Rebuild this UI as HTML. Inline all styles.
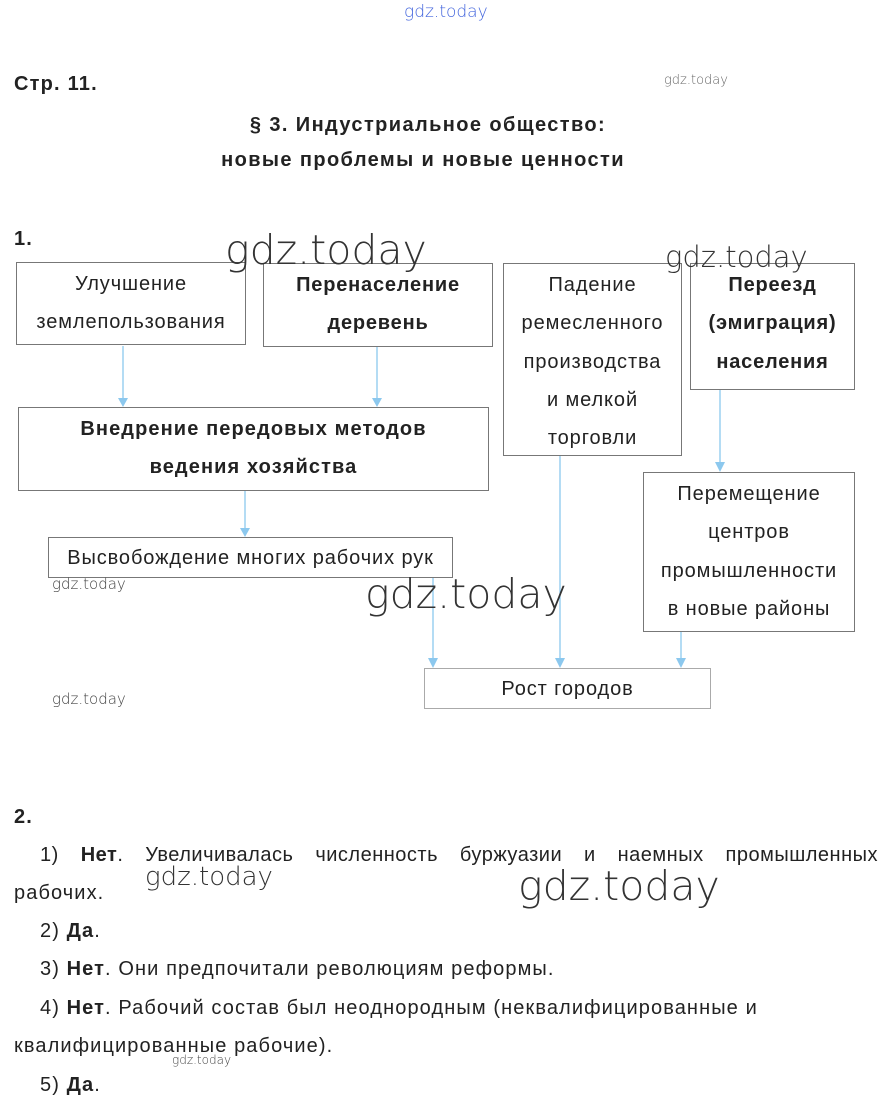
<!DOCTYPE html>
<html><head><meta charset="utf-8"><style>
body{margin:0;width:890px;height:1114px;background:#fff;position:relative;font-family:"Liberation Sans",sans-serif;color:#222;overflow:hidden}
.t{position:absolute;white-space:nowrap;font-size:20px;line-height:22px;letter-spacing:1.1px}
.b{font-weight:bold}
.box{position:absolute;border:1px solid #777;box-sizing:border-box;text-align:center;font-size:20px;letter-spacing:0.9px;line-height:38.3px;color:#222}
.box div{height:38.3px}
.wm{position:absolute;color:#444;white-space:nowrap;font-family:"DejaVu Sans",sans-serif;font-weight:200}
svg{position:absolute;left:0;top:0}
</style></head><body>
<div class="wm" style="left:404px;top:2px;font-size:17px;color:#4466dd">gdz.today</div>
<div class="t b" style="left:14px;top:73px;letter-spacing:1.2px">Стр. 11.</div>
<div class="wm" style="left:664px;top:73px;font-size:13px;color:#666">gdz.today</div>
<div class="t b" style="left:0;width:856px;text-align:center;top:114px;letter-spacing:1.4px">§ 3. Индустриальное общество:</div>
<div class="t b" style="left:0;width:846px;text-align:center;top:149px;letter-spacing:1.4px">новые проблемы и новые ценности</div>
<div class="t b" style="left:14px;top:228px">1.</div>

<div class="box" style="left:16px;top:262px;width:230px;height:83px;padding-top:2px"><div>Улучшение</div><div>землепользования</div></div>
<div class="box b" style="left:263px;top:263px;width:230px;height:84px;padding-top:2px;letter-spacing:0.8px"><div>Перенаселение</div><div>деревень</div></div>
<div class="box" style="left:503px;top:263px;width:179px;height:193px;padding-top:2px"><div>Падение</div><div>ремесленного</div><div>производства</div><div>и мелкой</div><div>торговли</div></div>
<div class="box b" style="left:690px;top:263px;width:165px;height:127px;padding-top:2px;letter-spacing:0.8px"><div>Переезд</div><div>(эмиграция)</div><div>населения</div></div>
<div class="box b" style="left:18px;top:407px;width:471px;height:84px;padding-top:2px;letter-spacing:1.1px"><div>Внедрение передовых методов</div><div>ведения хозяйства</div></div>
<div class="box" style="left:48px;top:537px;width:405px;height:41px;line-height:41px"><div>Высвобождение многих рабочих рук</div></div>
<div class="box" style="left:643px;top:472px;width:212px;height:160px;padding-top:2px"><div>Перемещение</div><div>центров</div><div>промышленности</div><div>в новые районы</div></div>
<div class="box" style="left:424px;top:668px;width:287px;height:41px;line-height:41px;border-color:#aaa"><div>Рост городов</div></div>

<svg width="890" height="1114">
<g stroke="#8cc8ee" stroke-width="1.3" fill="none">
<line x1="123" y1="346" x2="123" y2="400"/><line x1="377" y1="347" x2="377" y2="400"/>
<line x1="245" y1="491" x2="245" y2="530"/><line x1="720" y1="390" x2="720" y2="465"/>
<line x1="433" y1="578" x2="433" y2="661"/><line x1="560" y1="456" x2="560" y2="661"/>
<line x1="681" y1="632" x2="681" y2="661"/>
</g>
<g fill="#8cc8ee">
<polygon points="118,398 128,398 123,407"/><polygon points="372,398 382,398 377,407"/>
<polygon points="240,528 250,528 245,537"/><polygon points="715,462 725,462 720,472"/>
<polygon points="428,658 438,658 433,668"/><polygon points="555,658 565,658 560,668"/>
<polygon points="676,658 686,658 681,668"/>
</g>
</svg>

<div class="wm" style="left:225px;top:226px;font-size:41px;color:#333">gdz.today</div>
<div class="wm" style="left:665px;top:240px;font-size:29px;color:#333">gdz.today</div>
<div class="wm" style="left:52px;top:575px;font-size:15px">gdz.today</div>
<div class="wm" style="left:365px;top:570px;font-size:41px;color:#333">gdz.today</div>
<div class="wm" style="left:52px;top:690px;font-size:15px">gdz.today</div>

<div class="t b" style="left:14px;top:806px">2.</div>
<div class="t" style="left:40px;top:844px;width:838px;text-align:justify;text-align-last:justify;white-space:normal;letter-spacing:0.5px">1) <b>Нет</b>. Увеличивалась численность буржуазии и наемных промышленных</div>
<div class="t" style="left:14px;top:882px">рабочих.</div>
<div class="t" style="left:40px;top:920px">2) <b>Да</b>.</div>
<div class="t" style="left:40px;top:958px">3) <b>Нет</b>. Они предпочитали революциям реформы.</div>
<div class="t" style="left:40px;top:997px">4) <b>Нет</b>. Рабочий состав был неоднородным (неквалифицированные и</div>
<div class="t" style="left:14px;top:1035px">квалифицированные рабочие).</div>
<div class="t" style="left:40px;top:1074px">5) <b>Да</b>.</div>
<div class="wm" style="left:145px;top:862px;font-size:26px;color:#333">gdz.today</div>
<div class="wm" style="left:518px;top:862px;font-size:41px;color:#333">gdz.today</div>
<div class="wm" style="left:172px;top:1053px;font-size:12px">gdz.today</div>
</body></html>
